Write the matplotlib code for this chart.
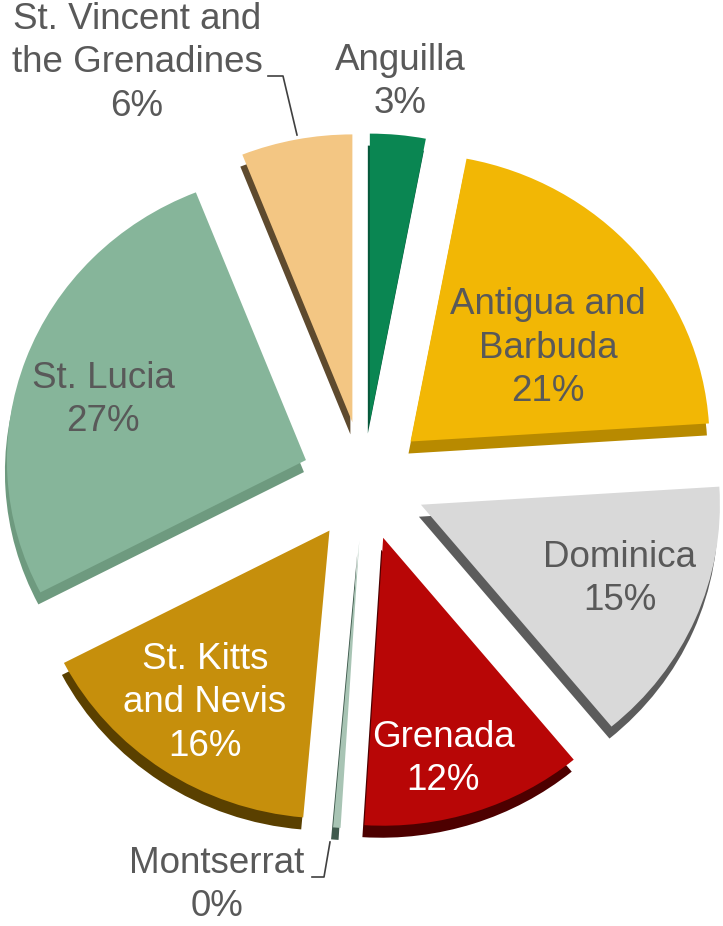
import numpy as np
import matplotlib.pyplot as plt
from matplotlib.transforms import Affine2D

plt.rcParams["font.family"] = ["Liberation Sans", "DejaVu Sans"]

# data
countries = ["Anguilla", "Antigua and Barbuda", "Dominica", "Grenada", "Montserrat",
             "St. Kitts and Nevis", "St. Lucia", "St. Vincent and the Grenadines"]
shares = [3.0, 21.0, 15.0, 12.0, 0.4, 16.0, 26.6, 6.0]
pct_labels = ["3%", "21%", "15%", "12%", "0%", "16%", "27%", "6%"]
label_text = ["Anguilla", "Antigua and\nBarbuda", "Dominica", "Grenada", "Montserrat",
              "St. Kitts\nand Nevis", "St. Lucia", "St. Vincent and\nthe Grenadines"]

top_colors = ["#0a8652", "#f2b705", "#d9d9d9", "#b80606", "#a8c4b4",
              "#c68f0c", "#86b59a", "#f3c683"]
side_colors = ["#06573a", "#b88a00", "#5c5c5c", "#4d0000", "#3f5a4d",
               "#5a4000", "#6e9a7f", "#5e4a2e"]
text_colors = ["#595959", "#595959", "#595959", "white", "#595959",
               "white", "#595959", "#595959"]

W, H = 723, 926
fig = plt.figure(figsize=(W / 100, H / 100), dpi=100)
ax = fig.add_axes([0, 0, 1, 1])

cx, cy = 364, H - 481
r = 299
tilt = 0.963     # slight vertical squash for the 3-D look
explode = [62] * len(shares)   # pie() takes explode in data units
depth = 12

squash = Affine2D().translate(-cx, -cy).scale(1, tilt).translate(cx, cy)

# side (extrusion) first, then top face
sides, _ = ax.pie(shares, colors=side_colors, startangle=90, counterclock=False,
                  radius=r, center=(cx - 2, cy - depth / tilt), explode=explode,
                  frame=True, wedgeprops=dict(linewidth=0))
tops, _ = ax.pie(shares, colors=top_colors, startangle=90, counterclock=False,
                 radius=r, center=(cx, cy), explode=explode, frame=True,
                 wedgeprops=dict(linewidth=0))
for w in sides + tops:
    w.set_transform(squash + ax.transData)

ax.set_xlim(0, W)
ax.set_ylim(0, H)
ax.set_aspect("equal")
ax.axis("off")

# label positions (pixel coords of the text centre, y from top)
label_pos = [(400, 82), (548, 348), (620, 579), (443, 759), (217, 885),
             (205, 703), (103, 400), (137, 63)]

for name, pct, (px, py), col in zip(label_text, pct_labels, label_pos, text_colors):
    ax.text(px, H - py, name + "\n" + pct, ha="center", va="center",
            fontsize=26.5, color=col, linespacing=1.31, multialignment="center")

# leader lines
ax.plot([268, 283, 297], [H - 76, H - 76, H - 135], color="#404040", lw=1.2)
ax.plot([312, 324, 330], [H - 877, H - 877, H - 842], color="#404040", lw=1.2)

fig.savefig("out.png", dpi=100)
